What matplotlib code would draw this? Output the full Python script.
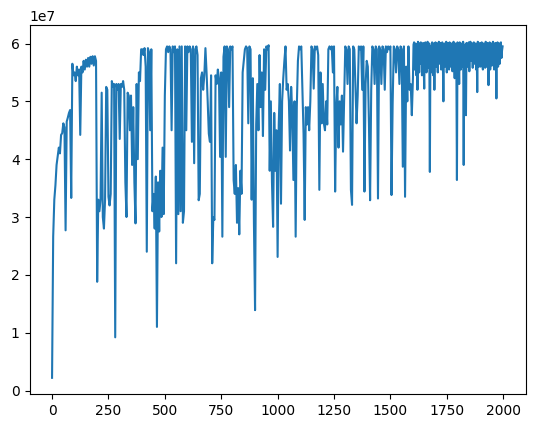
import numpy as np
import matplotlib
matplotlib.use("Agg")
import matplotlib.pyplot as plt

# values, in units of 1e7
# x = 0..1595, one sample every 5 steps
step_a = 5
y_0000 = [0.22, 2.66, 3.3, 3.55, 3.9, 4.05, 4.2, 4.1, 4.42, 4.45,
          4.62, 4.55, 2.77, 4.65, 4.72, 4.8, 4.85, 3.33, 5.65, 5.45]
y_0100 = [5.5, 5.35, 5.6, 5.45, 5.55, 4.42, 5.6, 5.5, 5.7, 5.55,
          5.72, 5.6, 5.75, 5.6, 5.77, 5.65, 5.78, 5.62, 5.78, 5.7]
y_0200 = [1.88, 3.3, 3.1, 3.3, 5.15, 3.0, 2.8, 3.3, 5.25, 5.2,
          3.35, 3.2, 3.4, 5.35, 5.25, 5.3, 0.92, 5.3, 5.2, 5.3]
y_0300 = [4.35, 5.3, 5.25, 5.35, 5.2, 3.6, 3.0, 5.15, 5.1, 4.5,
          5.1, 3.9, 4.9, 3.6, 2.89, 5.3, 4.0, 5.5, 5.35, 5.9]
y_0400 = [5.9, 5.8, 5.92, 5.6, 2.4, 5.92, 5.85, 4.5, 5.9, 3.1,
          3.4, 2.8, 3.7, 1.1, 3.6, 2.75, 3.8, 3.0, 4.2, 3.05]
y_0500 = [5.1, 5.9, 5.95, 5.85, 5.95, 5.9, 4.5, 5.95, 5.85, 5.95,
          2.2, 5.9, 3.05, 5.95, 3.1, 5.95, 2.9, 3.1, 5.95, 4.5]
y_0600 = [5.95, 5.85, 5.95, 5.9, 4.3, 5.95, 3.93, 5.9, 5.95, 5.8,
          3.29, 3.4, 5.4, 5.5, 5.2, 5.45, 5.92, 5.5, 5.0, 4.44]
y_0700 = [4.3, 5.45, 2.2, 3.0, 2.95, 5.45, 5.3, 5.55, 5.4, 4.04,
          5.5, 2.66, 5.77, 5.95, 4.04, 5.95, 5.9, 4.9, 5.95, 5.9]
y_0800 = [5.95, 3.64, 3.4, 3.9, 2.9, 3.5, 2.7, 3.8, 3.4, 5.5,
          5.7, 5.9, 5.95, 5.92, 4.62, 5.95, 5.9, 3.3, 5.4, 2.9]
y_0900 = [1.39, 4.6, 5.3, 4.5, 5.8, 4.9, 5.5, 4.4, 5.9, 5.2,
          5.95, 5.9, 5.97, 3.8, 5.0, 3.6, 2.83, 4.8, 3.8, 4.5]
y_1000 = [2.31, 4.6, 5.3, 3.23, 5.0, 5.4, 5.7, 5.95, 5.2, 5.3,
          5.0, 4.15, 5.25, 4.8, 3.64, 5.0, 2.66, 4.9, 5.7, 5.95]
y_1100 = [5.9, 5.95, 5.2, 4.44, 2.95, 4.9, 4.6, 4.9, 4.5, 5.0,
          5.95, 5.9, 5.22, 5.95, 5.9, 5.95, 5.8, 3.47, 5.5, 4.62]
y_1200 = [5.3, 4.62, 4.5, 5.0, 4.6, 5.9, 5.95, 5.9, 5.95, 5.5,
          5.95, 3.44, 4.9, 5.25, 4.2, 5.0, 4.6, 5.1, 4.13, 5.0]
y_1300 = [5.95, 5.9, 5.3, 5.95, 5.9, 3.47, 3.21, 5.95, 5.9, 5.25,
          4.62, 5.1, 5.95, 5.9, 5.95, 5.2, 5.95, 3.44, 5.3, 5.7]
y_1400 = [5.6, 4.6, 3.29, 5.2, 5.95, 5.9, 5.3, 5.95, 5.9, 3.32,
          5.95, 5.9, 5.3, 5.95, 5.9, 5.2, 5.95, 5.85, 5.95, 5.9]
y_1500 = [5.95, 3.38, 4.96, 5.95, 5.9, 5.5, 5.95, 5.9, 5.3, 5.95,
          5.9, 3.87, 5.95, 3.35, 5.6, 5.0, 5.95, 5.2, 5.3, 4.76]

# x = 1600..1997.5, dense band, one sample every 2.5 steps
step_b = 2.5
y_1600 = [5.4, 5.98, 6.02, 5.55, 5.75, 6.0, 5.45, 5.9, 5.2, 6.03,
          5.85, 5.5, 6.0, 5.65, 6.02, 5.95, 5.45, 5.8, 6.01, 5.6,
          5.22, 5.97, 6.02, 5.7, 5.5, 5.92, 6.03, 5.58, 5.85, 6.0,
          3.78, 5.95, 5.5, 5.75, 6.02, 5.9, 5.45, 6.0, 5.2, 5.88]
y_1700 = [6.02, 5.6, 5.85, 6.0, 5.5, 5.95, 6.03, 5.65, 5.8, 6.01,
          5.55, 5.9, 6.02, 5.7, 5.0, 5.97, 6.0, 5.6, 5.85, 6.03,
          5.5, 5.75, 6.01, 5.92, 5.55, 6.02, 5.8, 5.6, 6.0, 5.95,
          5.52, 5.88, 6.03, 5.7, 5.4, 6.0, 5.85, 5.6, 3.64, 6.02]
y_1800 = [5.95, 5.7, 5.3, 6.02, 5.85, 5.55, 6.0, 5.92, 5.6, 6.03,
          3.9, 5.98, 5.75, 5.55, 4.76, 6.01, 5.9, 5.6, 5.8, 6.02,
          5.52, 5.95, 6.03, 5.7, 5.85, 6.0, 5.58, 5.9, 6.02, 5.65,
          5.8, 6.0, 5.55, 5.95, 5.16, 6.03, 5.75, 5.6, 5.92, 6.01]
y_1900 = [5.6, 5.9, 6.02, 5.7, 5.55, 6.0, 5.85, 5.95, 5.58, 6.03,
          5.8, 5.6, 6.01, 5.92, 5.28, 5.75, 6.02, 5.55, 5.88, 6.0,
          5.62, 5.95, 6.03, 5.7, 5.55, 5.9, 6.01, 5.8, 5.05, 5.98,
          6.02, 5.6, 5.85, 6.0, 5.65, 5.95, 6.02, 5.75, 5.88, 5.95]

ya = (y_0000 + y_0100 + y_0200 + y_0300 + y_0400 + y_0500 + y_0600 + y_0700
      + y_0800 + y_0900 + y_1000 + y_1100 + y_1200 + y_1300 + y_1400 + y_1500)
yb = y_1600 + y_1700 + y_1800 + y_1900
xa = np.arange(len(ya)) * step_a
xb = xa[-1] + step_a + np.arange(len(yb)) * step_b
x = np.concatenate([xa, xb])
y = np.array(ya + yb) * 1e7

fig = plt.figure(figsize=(5.34, 4.28), dpi=100)
ax = fig.add_axes([29.5 / 534, 34 / 428, 496 / 534, 369 / 428])
ax.plot(x, y)
ax.set_xlim(-100, 2099)
ax.set_ylim(-0.06e7, 6.32e7)
ax.set_xticks(np.arange(0, 2001, 250))

fig.savefig("out.png", dpi=100)
